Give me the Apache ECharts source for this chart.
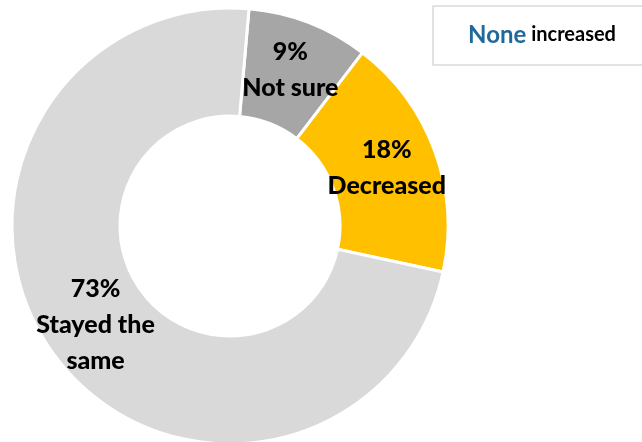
<!DOCTYPE html>
<html lang="en">
<head>
    <meta charset="UTF-8">
    <title>Donut</title>
    <style>
        html, body { margin: 0; padding: 0; background: #ffffff; }
        #chart { width: 642px; height: 442px; }
    </style>
</head>
<body>
<div id="chart"></div>
<script src="https://cdn.jsdelivr.net/npm/echarts@6/dist/echarts.min.js"></script>
<script>
    // data
    var categories = ['Not sure', 'Decreased', 'Stayed the\nsame'];
    var values = [9, 18, 73];
    var colors = ['#A6A6A6', '#FFC000', '#D9D9D9'];

    var pieData = categories.map(function (c, i) {
        return { name: c, value: values[i], itemStyle: { color: colors[i] } };
    });

    var chart = echarts.init(document.getElementById('chart'));
    var option = {
        animation: false,
        series: [{
            type: 'pie',
            center: [230, 226],
            radius: [110, 218],
            startAngle: 85,
            clockwise: true,
            data: pieData,
            itemStyle: { borderColor: '#ffffff', borderWidth: 3 },
            label: {
                show: true,
                position: 'inside',
                formatter: '{d}%\n{b}',
                fontFamily: 'Lato',
                fontWeight: 900,
                fontSize: 25,
                lineHeight: 36,
                color: '#000000'
            },
            labelLine: { show: false },
            emphasis: { disabled: true }
        }],
        graphic: [{
            type: 'rect',
            shape: { x: 433, y: 6, width: 215, height: 59 },
            style: { fill: '#ffffff', stroke: '#D9D9D9', lineWidth: 1.5 }
        }, {
            type: 'text',
            x: 542,
            y: 35,
            style: {
                text: '{a|None} {b|increased}',
                align: 'center',
                verticalAlign: 'middle',
                font: 'bold 20px Lato',
                rich: {
                    a: { fontFamily: 'Lato', fontWeight: 'bold', fontSize: 24, fill: '#1F6A9A' },
                    b: { fontFamily: 'Lato', fontWeight: 'bold', fontSize: 20, fill: '#000000' }
                }
            }
        }]
    };
    chart.setOption(option);
</script>
</body>
</html>
